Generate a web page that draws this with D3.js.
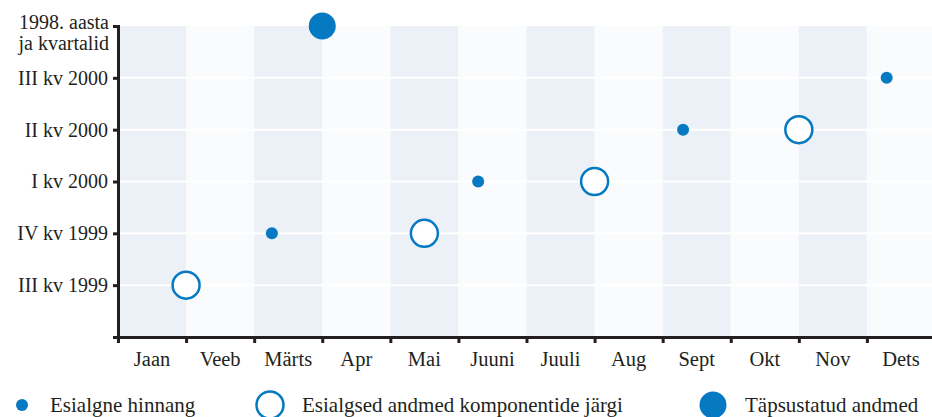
<!DOCTYPE html>
<html>
<head>
<meta charset="utf-8">
<script src="https://cdn.jsdelivr.net/npm/d3@7"></script>
<style>
  body { margin: 0; background: #fff; }
</style>
</head>
<body>
<script>
// months on x, quarters on y
var months = ["Jaan", "Veeb", "Märts", "Apr", "Mai", "Juuni", "Juuli", "Aug", "Sept", "Okt", "Nov", "Dets"];
var quarters = ["", "III kv 1999", "IV kv 1999", "I kv 2000", "II kv 2000", "III kv 2000", "1998"];

// position = month index (0 = start of Jaan), q = quarter published
var initialMonth = [2.26, 5.29, 8.3, 11.29];
var initialQ = ["IV kv 1999", "I kv 2000", "II kv 2000", "III kv 2000"];

var componentMonth = [1.0, 4.5, 7.0, 10.0];
var componentQ = ["III kv 1999", "IV kv 1999", "I kv 2000", "II kv 2000"];

var revisedMonth = [3.0];
var revisedQ = ["1998"];

var legendLabels = ["Esialgne hinnang", "Esialgsed andmed komponentide järgi", "Täpsustatud andmed"];

var blue = "#0579c2";
var ink = "#231f20";
var font = "'Liberation Serif', 'Times New Roman', Tinos, serif";
var width = 932, height = 417;

var svg = d3.select("body").append("svg")
    .attr("width", width)
    .attr("height", height);

var xScale = d3.scaleLinear()
    .domain([0, 12])
    .range([118, 935]);

var yScale = d3.scaleLinear()
    .domain([0, quarters.length - 1])
    .range([337, 26]);

function qy(q) { return yScale(quarters.indexOf(q)); }

// alternating month bands
svg.selectAll("rect.band")
    .data(months)
    .enter().append("rect")
    .attr("class", "band")
    .attr("x", function(d, i) { return xScale(i); })
    .attr("y", yScale(6))
    .attr("width", xScale(1) - xScale(0))
    .attr("height", yScale(0) - yScale(6))
    .attr("fill", function(d, i) { return i % 2 == 0 ? "#ecf1f8" : "#f9fbfd"; });

// white grid lines
svg.selectAll("line.grid")
    .data(d3.range(1, quarters.length - 1))
    .enter().append("line")
    .attr("class", "grid")
    .attr("x1", xScale(0))
    .attr("x2", xScale(12))
    .attr("y1", function(d) { return yScale(d); })
    .attr("y2", function(d) { return yScale(d); })
    .attr("stroke", "#fff")
    .attr("stroke-width", 2);

// y axis
var yAxis = svg.append("g")
    .attr("transform", "translate(" + xScale(0) + ",0)")
    .call(d3.axisLeft(yScale)
        .tickValues(d3.range(1, quarters.length))
        .tickSize(5)
        .tickPadding(5)
        .tickFormat(function(d) { return quarters[d]; }));
yAxis.attr("font-family", null);
yAxis.select(".domain").attr("stroke", ink).attr("stroke-width", 3);
yAxis.selectAll(".tick line").attr("stroke", ink).attr("stroke-width", 3);
yAxis.selectAll(".tick text")
    .style("font-family", font)
    .style("font-size", "20px")
    .attr("fill", ink);

// top label on two lines
var topTick = yAxis.selectAll(".tick").filter(function(d) { return d == 6; }).select("text");
topTick.text(null).attr("dy", null);
topTick.append("tspan").attr("x", -9).attr("y", 2).text("1998. aasta");
topTick.append("tspan").attr("x", -9).attr("y", 23).text("ja kvartalid");

// x axis
var xAxis = svg.append("g")
    .attr("transform", "translate(0," + yScale(0) + ")")
    .call(d3.axisBottom(xScale)
        .tickValues(d3.range(0, 12))
        .tickSize(6)
        .tickFormat(""));
xAxis.select(".domain").attr("stroke", ink).attr("stroke-width", 3);
xAxis.selectAll(".tick line").attr("stroke", ink).attr("stroke-width", 3);

svg.selectAll("text.month")
    .data(months)
    .enter().append("text")
    .attr("class", "month")
    .attr("x", function(d, i) { return xScale(i + 0.5); })
    .attr("y", 366)
    .attr("text-anchor", "middle")
    .attr("fill", ink)
    .style("font-family", font)
    .style("font-size", "20.5px")
    .text(function(d) { return d; });

// marks
svg.selectAll("circle.initial")
    .data(initialMonth)
    .enter().append("circle")
    .attr("class", "initial")
    .attr("cx", function(d) { return xScale(d); })
    .attr("cy", function(d, i) { return qy(initialQ[i]); })
    .attr("r", 6)
    .attr("fill", blue);

svg.selectAll("circle.component")
    .data(componentMonth)
    .enter().append("circle")
    .attr("class", "component")
    .attr("cx", function(d) { return xScale(d); })
    .attr("cy", function(d, i) { return qy(componentQ[i]); })
    .attr("r", 13.5)
    .attr("fill", "#fff")
    .attr("stroke", blue)
    .attr("stroke-width", 2.5);

svg.selectAll("circle.revised")
    .data(revisedMonth)
    .enter().append("circle")
    .attr("class", "revised")
    .attr("cx", function(d) { return xScale(d); })
    .attr("cy", function(d, i) { return qy(revisedQ[i]); })
    .attr("r", 13.5)
    .attr("fill", blue);

// legend
var legendX = [22, 270, 713];
var legend = svg.selectAll("g.legend")
    .data(legendLabels)
    .enter().append("g")
    .attr("class", "legend")
    .attr("transform", function(d, i) { return "translate(" + legendX[i] + ",405)"; });

legend.append("circle")
    .attr("r", function(d, i) { return i == 0 ? 6 : 13.5; })
    .attr("fill", function(d, i) { return i == 1 ? "#fff" : blue; })
    .attr("stroke", function(d, i) { return i == 1 ? blue : "none"; })
    .attr("stroke-width", 2.5);

legend.append("text")
    .attr("x", function(d, i) { return i == 0 ? 28 : 32; })
    .attr("y", 7)
    .attr("fill", ink)
    .style("font-family", font)
    .style("font-size", "21px")
    .text(function(d) { return d; });
</script>
</body>
</html>
